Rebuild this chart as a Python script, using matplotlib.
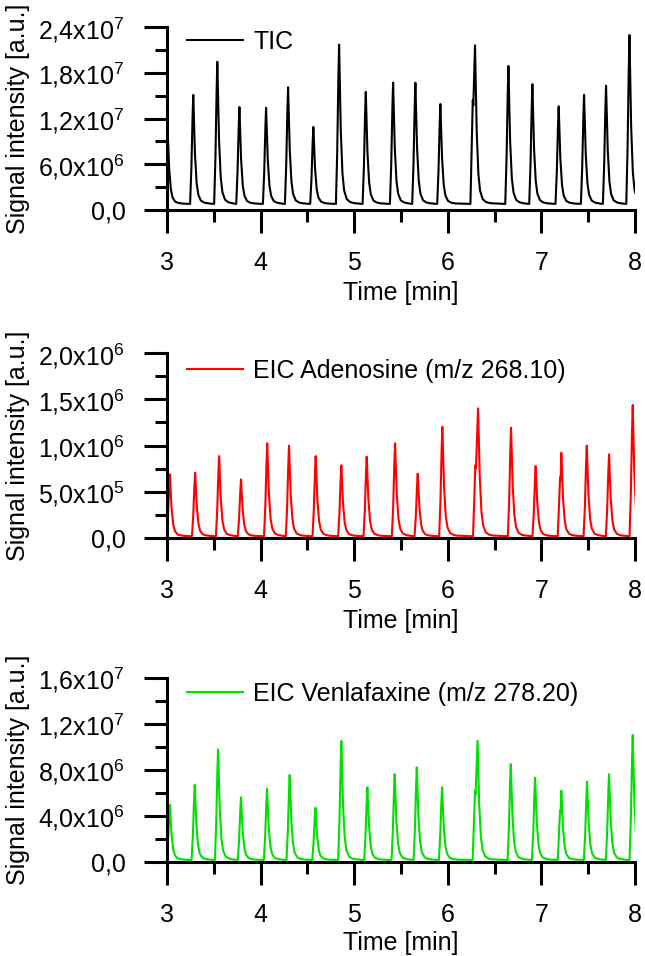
import numpy as np
import matplotlib
matplotlib.use('Agg')
import matplotlib.pyplot as plt
from matplotlib.ticker import MultipleLocator, FuncFormatter

plt.rcParams['font.family'] = ['Liberation Sans', 'DejaVu Sans']
plt.rcParams['mathtext.fontset'] = 'custom'
plt.rcParams['mathtext.rm'] = 'Liberation Sans'
plt.rcParams['mathtext.it'] = 'Liberation Sans:italic'
plt.rcParams['mathtext.bf'] = 'Liberation Sans:bold'

# peak apex times [min] and apex intensities
tic_times = [3.005, 3.28, 3.537, 3.773, 4.058, 4.293, 4.563, 4.838, 5.123, 5.415,
             5.653, 5.92, 6.29, 6.647, 6.903, 7.184, 7.455, 7.69, 7.94]
tic_heights = [1.075e7, 1.51e7, 1.945e7, 1.35e7, 1.34e7, 1.61e7, 1.09e7, 2.17e7, 1.55e7, 1.67e7,
               1.67e7, 1.39e7, 2.16e7, 1.89e7, 1.65e7, 1.36e7, 1.51e7, 1.63e7, 2.295e7]
tic_baseline = 8.0e5
tic_shoulders = [(6.266, 1.44e7)]

ade_times = [3.03, 3.30, 3.556, 3.79, 4.07, 4.303, 4.588, 4.862, 5.133, 5.436,
             5.678, 5.941, 6.323, 6.675, 6.938, 7.212, 7.484, 7.722, 7.975]
ade_heights = [6.88e5, 7.06e5, 8.86e5, 6.34e5, 1.024e6, 9.98e5, 8.86e5, 7.86e5, 8.79e5, 1.024e6,
               6.95e5, 1.203e6, 1.402e6, 1.193e6, 7.78e5, 9.22e5, 9.98e5, 9.05e5, 1.438e6]
ade_baseline = 2.0e4
ade_shoulders = [(6.294, 7.9e5), (7.199, 6.56e5)]

ven_times = [3.03, 3.296, 3.545, 3.79, 4.068, 4.31, 4.585, 4.862, 5.14, 5.432,
             5.668, 5.938, 6.317, 6.672, 6.932, 7.212, 7.487, 7.722, 7.975]
ven_heights = [4.96e6, 6.7e6, 9.8e6, 5.63e6, 6.38e6, 7.57e6, 4.72e6, 1.052e7, 6.5e6, 7.65e6,
               8.24e6, 6.5e6, 1.055e7, 8.52e6, 7.33e6, 6.2e6, 6.98e6, 7.63e6, 1.104e7]
ven_baseline = 1.8e5
ven_shoulders = [(6.29, 6.17e6), (7.199, 4.5e6)]

# shape of one peak (offset from apex [min], fraction of apex height)
peak_offsets = [-0.034, -0.02, -0.008, 0.0, 0.008, 0.018, 0.036, 0.054, 0.082, 0.118, 0.16]
peak_fracs = [0.0, 0.33, 0.78, 1.0, 0.75, 0.46, 0.19, 0.084, 0.03, 0.012, 0.005]


def trace(times, heights, base, shoulders):
    t, y = [2.9], [base]
    for tp, h in zip(times, heights):
        sh = [s for s in shoulders if 0 < tp - s[0] < 0.05]
        for off, fr in zip(peak_offsets, peak_fracs):
            if sh and off < 0:
                continue
            if sh and off == 0:
                ts, hs = sh[0]
                t += [ts - 0.025, ts, ts + 0.006]
                y += [base, hs, base + 0.95 * (hs - base)]
            t.append(tp + off)
            y.append(base + (h - base) * fr)
    t.append(8.3)
    y.append(base)
    return t, y


def sci_label(v, pos):
    if abs(v) < 1:
        return '0,0'
    if v < 0:
        return ''
    e = int(np.floor(np.log10(v) + 1e-9))
    m = v / 10 ** e
    return f'{m:.1f}'.replace('.', ',') + 'x10$^{\\mathregular{%d}}$ ' % e


fig = plt.figure(figsize=(6.45, 9.56), dpi=100)

panels = [
    ([0.259, 0.7803, 0.7256, 0.1914], tic_times, tic_heights, tic_baseline, tic_shoulders,
     'black', 'TIC', 2.4e7, 6e6, 3e6, 0.918, -0.386),
    ([0.259, 0.4372, 0.7256, 0.1935], ade_times, ade_heights, ade_baseline, ade_shoulders,
     '#ff0000', 'EIC Adenosine (m/z 268.10)', 2.0e6, 5e5, 2.5e5, 0.905, -0.382),
    ([0.259, 0.0983, 0.7256, 0.1925], ven_times, ven_heights, ven_baseline, ven_shoulders,
     '#00e000', 'EIC Venlafaxine (m/z 278.20)', 1.6e7, 4e6, 2e6, 0.914, -0.374),
]

for rect, times, heights, base, shoulders, color, label, ymax, ymaj, ymin, legy, xlaby in panels:
    ax = fig.add_axes(rect)
    t, y = trace(times, heights, base, shoulders)
    ax.plot(t, y, color=color, linewidth=1.5, label=label)
    ax.set_xlim(3, 8)
    ax.set_ylim(0, ymax)
    ax.spines['top'].set_visible(False)
    ax.spines['right'].set_visible(False)
    for s in ['left', 'bottom']:
        ax.spines[s].set_linewidth(2.2)
    ax.xaxis.set_major_locator(MultipleLocator(1))
    ax.xaxis.set_minor_locator(MultipleLocator(0.5))
    ax.yaxis.set_major_locator(MultipleLocator(ymaj))
    ax.yaxis.set_minor_locator(MultipleLocator(ymin))
    ax.yaxis.set_major_formatter(FuncFormatter(sci_label))
    ax.tick_params(which='major', direction='out', length=16.5, width=2.2, labelsize=18)
    ax.tick_params(which='minor', direction='out', length=8.5, width=2.2)
    ax.tick_params(axis='x', which='major', pad=13)
    ax.tick_params(axis='y', which='major', pad=13)
    ax.set_xlabel('Time [min]', fontsize=18)
    ax.set_ylabel('Signal intensity [a.u.]', fontsize=18)
    ax.xaxis.set_label_coords(0.5, xlaby)
    ax.yaxis.set_label_coords(-0.292, 0.5)
    ax.legend(loc='center left', bbox_to_anchor=(0.0427, legy), frameon=False, fontsize=18,
              borderaxespad=0, borderpad=0, handlelength=2.24, handletextpad=0.4)

fig.savefig('out.png', dpi=100)
